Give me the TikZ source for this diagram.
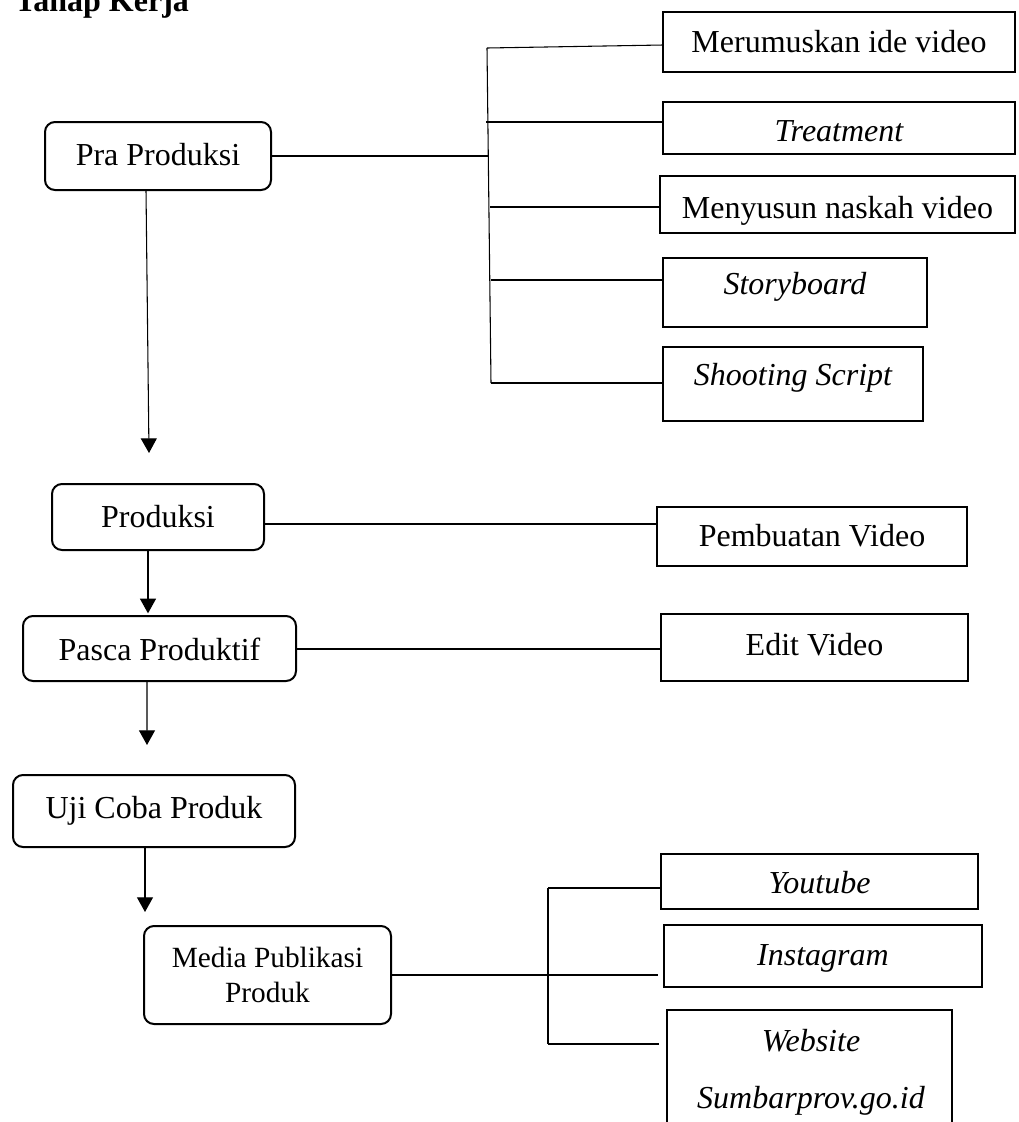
\documentclass[tikz,border=0pt]{standalone}
\usepackage{fontspec}
\setmainfont{Liberation Serif}
\usetikzlibrary{arrows.meta}
\begin{document}
\begin{tikzpicture}[x=0.75pt,y=-0.75pt,
  every node/.style={inner sep=0pt, outer sep=0pt},
  txt/.style={font=\fontsize{24}{29}\selectfont, text height=18.25pt, text depth=3.25pt},
  mainbox/.style={draw, line width=1.5pt, rounded corners=7.5pt, txt},
  subbox/.style={draw, line width=1.5pt, txt},
  thinline/.style={line width=0.8pt},
  branch/.style={line width=1.5pt},
  flow/.style={line width=0.8pt, -{Triangle[width=12pt,length=11pt]}}]
\useasboundingbox (0,0) rectangle (1019,1122);

% title
\node[anchor=base west, font=\fontsize{24}{29}\selectfont\bfseries] (title) at (15,11) {Tahap Kerja};

% main stages
\node[mainbox, minimum width=169.5pt, minimum height=51pt, text height=17.5pt, text depth=4pt] (pra) at (158,156) {Pra Produksi};
\node[mainbox, minimum width=159pt, minimum height=49.5pt] (prod) at (158,517) {Produksi};
\node[mainbox, minimum width=204.75pt, minimum height=48.75pt, text height=19.4pt, text depth=2.1pt] (pasca) at (159.5,648.5) {Pasca Produktif};
\node[mainbox, minimum width=211.5pt, minimum height=54pt, text height=16pt, text depth=5.5pt] (uji) at (154,811) {Uji Coba Produk};
\node[draw, line width=1.5pt, rounded corners=7.5pt, minimum width=185.25pt, minimum height=73.5pt,
      align=center, font=\fontsize{22}{26.25}\selectfont] (media) at (267.5,975) {Media Publikasi\\Produk};

% pra produksi details
\node[subbox, minimum width=264pt, minimum height=45pt] (mer) at (839,42) {Merumuskan ide video};
\node[subbox, minimum width=264pt, minimum height=39pt, text height=21pt, text depth=0.5pt] (treat) at (839,128) {\itshape Treatment};
\node[subbox, minimum width=266.25pt, minimum height=42.75pt, text height=20.9pt, text depth=0.6pt] (meny) at (837.5,204.5) {Menyusun naskah video};
\node[subbox, minimum width=198pt, minimum height=51.75pt, text height=12.6pt, text depth=8.9pt] (story) at (795,292.5) {\itshape Storyboard};
\node[subbox, minimum width=195pt, minimum height=55.5pt, text height=11.5pt, text depth=10pt] (shoot) at (793,384) {\itshape Shooting Script};

% produksi / pasca details
\node[subbox, minimum width=232.5pt, minimum height=44.25pt] (pemb) at (812,536.5) {Pembuatan Video};
\node[subbox, minimum width=230.25pt, minimum height=50.25pt, text height=16.4pt, text depth=5.1pt] (edit) at (814.5,647.5) {Edit Video};

% media details
\node[subbox, minimum width=237.75pt, minimum height=41.25pt, text height=19.4pt, text depth=2.1pt] (yt) at (819.5,881.5) {\itshape Youtube};
\node[subbox, minimum width=238.5pt, minimum height=46.5pt, text height=17.5pt, text depth=4pt] (ig) at (823,956) {\itshape Instagram};
\node[draw, line width=1.5pt, minimum width=213.75pt, minimum height=105pt] (web) at (809.5,1080) {};
\node[anchor=base, font=\fontsize{24}{29}\selectfont\itshape] (webA) at (811,1051) {Website};
\node[anchor=base, font=\fontsize{24}{29}\selectfont\itshape] (webB) at (811,1108) {Sumbarprov.go.id};

% tree for pra produksi
\coordinate (t1) at (487,48);
\coordinate (t0) at (488,156);
\coordinate (b2) at (486,122);
\coordinate (b3) at (490,207);
\coordinate (b4) at (491,280);
\coordinate (t2) at (491,383);
\draw[thinline] (t1) -- (t2);
\draw[thinline] (pra.east) -- (t0);
\draw[thinline] (t1) -- ([yshift=2.25pt]t1 -| mer.west);
\draw[branch] (b2) -- (b2 -| treat.west);
\draw[branch] (b3) -- (b3 -| meny.west);
\draw[branch] (b4) -- (b4 -| story.west);
\draw[branch] (t2) -- (t2 -| shoot.west);

% produksi and pasca links
\draw[branch] ([yshift=-5.25pt]prod.east) coordinate (pl) -- (pl -| pemb.west);
\draw[branch] (pasca.east) -- (pasca.east -| edit.west);

% tree for media
\coordinate (u1) at (548,888);
\coordinate (u2) at (548,1044);
\draw[branch] (u1) -- (u2);
\draw[branch] (media.east) -- ([xshift=-4.5pt]media.east -| ig.west);
\draw[branch] (u1) -- (u1 -| yt.west);
\draw[branch] (u2) -- ([xshift=-6pt]u2 -| web.west);

% flow arrows
\coordinate (a1) at (149,453);
\coordinate (a3) at (147,745);
\coordinate (a4) at (145,912);
\draw[flow] ([xshift=-9pt]pra.south) -- (a1);
\draw[flow] ([xshift=-7.5pt]prod.south) coordinate (p1) -- ([yshift=2pt]p1 |- pasca.north);
\draw[flow] ([xshift=-9.4pt]pasca.south) -- (a3);
\draw[flow] ([xshift=-6.75pt]uji.south) -- (a4);
\end{tikzpicture}
\end{document}
